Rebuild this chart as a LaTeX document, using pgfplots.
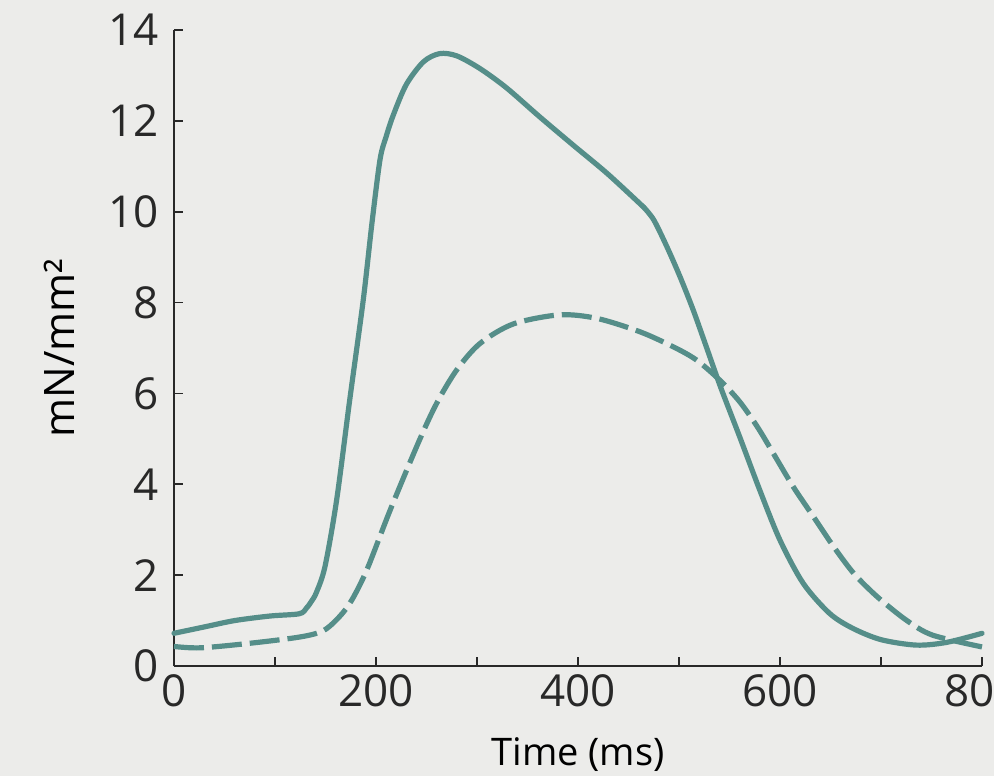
\documentclass[border=0pt]{standalone}
\usepackage{fontspec}
\setmainfont{Open Sans}
\usepackage{pgfplots}
\pgfplotsset{compat=1.18}

\definecolor{bgc}{RGB}{236,236,234}
\definecolor{teal1}{RGB}{85,142,137}
\definecolor{axc}{RGB}{40,40,40}

% solid curve, split at the corner near 466 ms
\pgfplotstableread{
x y
0 0.72
30 0.86
60 1.00
95 1.10
124 1.15
131 1.27
136 1.42
141 1.62
149.5 2.19
161 3.65
174 5.86
187.4 8.06
196 9.75
204 11.15
210 11.65
217 12.12
230 12.80
247 13.30
263 13.48
280 13.43
303 13.15
329 12.73
362 12.09
395 11.47
429 10.84
465 10.10
}\solidA

\pgfplotstableread{
x y
465 10.10
475 9.82
488 9.23
501 8.57
514 7.84
527 7.03
541 6.15
560 5.05
580 3.87
600 2.77
623 1.82
649 1.16
672 0.83
700 0.58
735 0.46
765 0.52
800 0.72
}\solidB

\pgfplotstableread{
x y
0 0.43
26 0.40
75 0.50
125 0.64
148 0.78
164 1.09
176 1.45
191 2.12
214 3.43
242 4.92
260 5.78
280 6.52
303 7.10
336 7.53
382 7.73
419 7.65
461 7.36
494 7.03
517 6.74
540 6.30
560 5.82
578 5.25
595 4.62
613 3.95
633 3.29
653 2.63
673 2.04
696 1.53
725 1.01
751 0.68
800 0.42
}\dashed

\begin{document}
\begin{tikzpicture}
\path[use as bounding box, fill=bgc] (0,0) rectangle (497pt,388pt);
\begin{axis}[
    at={(87pt,55pt)},
    anchor=south west,
    scale only axis,
    width=404pt,
    height=318pt,
    xmin=0, xmax=800,
    ymin=0, ymax=14,
    axis lines=left,
    axis line style={-, draw=axc, line width=1pt},
    xtick={0,100,...,800},
    xticklabels={0,,200,,400,,600,,800},
    ytick={0,2,...,14},
    major tick length=4.5pt,
    tick style={draw=axc, line width=0.8pt},
    tick align=inside,
    tick label style={font=\fontsize{22}{26}\selectfont, text=axc},
    /pgf/number format/assume math mode=true,
    xticklabel style={yshift=-1pt},
    yticklabel style={xshift=-4pt},
    xlabel={Time (ms)},
    ylabel={mN/mm²},
    xlabel style={font=\fontsize{19}{22}\selectfont, text=black,
        at={(axis description cs:0.5,0)}, anchor=base, yshift=-49.5pt},
    ylabel style={font=\fontsize{21}{24}\selectfont, text=black,
        at={(axis description cs:0,0.5)}, anchor=center, yshift=57.5pt},
    clip=false,
]
\addplot[teal1, line width=2.6pt, line cap=round, smooth, tension=0.5] table[x=x,y=y] {\solidA};
\addplot[teal1, line width=2.6pt, line cap=round, smooth, tension=0.5] table[x=x,y=y] {\solidB};
\addplot[teal1, line width=2.6pt, smooth, tension=0.5, dash pattern=on 15pt off 4pt] table[x=x,y=y] {\dashed};
\end{axis}
\end{tikzpicture}
\end{document}
